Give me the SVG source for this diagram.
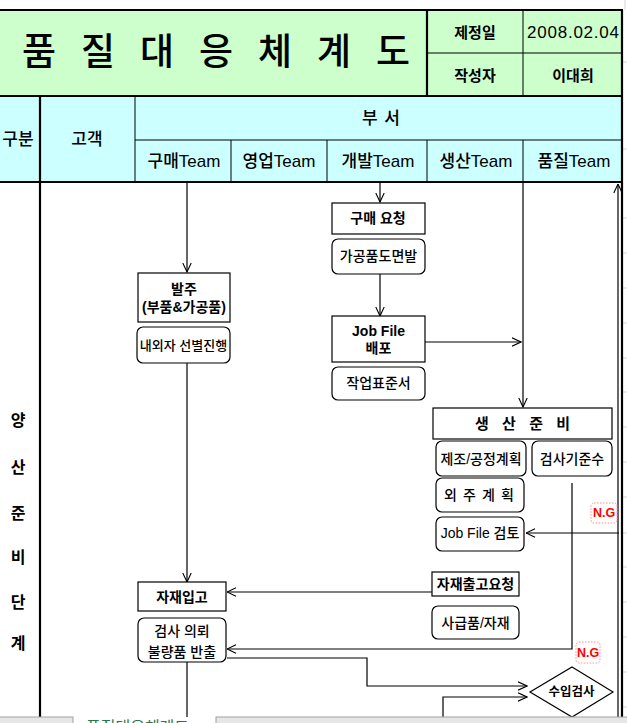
<svg xmlns="http://www.w3.org/2000/svg" width="627" height="723" viewBox="0 0 627 723">
<defs>
<style>
.t{font-family:"Liberation Sans","Noto Sans CJK KR",sans-serif;font-weight:500;fill:#000;text-anchor:middle;dominant-baseline:central}
.b{font-weight:bold}
.h{font-size:17px}
.s{font-size:14px}
.thin{stroke:#000;stroke-width:1;fill:none}
.thick{stroke:#000;stroke-width:2.2;fill:none}
.box{fill:#fff;stroke:#000;stroke-width:1.2}
.rbox{fill:#fff;stroke:#000;stroke-width:1.2}
.ng{fill:#fff;stroke:#ff8c8c;stroke-width:1;stroke-dasharray:1.5 1.5}
.ngt{font-family:"Liberation Sans",sans-serif;font-weight:bold;font-size:12.5px;fill:#ff0000;text-anchor:middle;dominant-baseline:central}
.grid{stroke:#d4d4d4;stroke-width:1}
.con{stroke:#000;stroke-width:1.2;fill:none;marker-end:url(#arr)}
.conn{stroke:#000;stroke-width:1.2;fill:none}
</style>
<marker id="arr" viewBox="0 0 10 10" refX="9.5" refY="5" markerWidth="10" markerHeight="10" markerUnits="userSpaceOnUse" orient="auto">
<path d="M0.5,0.8 L9.5,5 L0.5,9.2" fill="none" stroke="#000" stroke-width="1.1"/>
</marker>
</defs>
<rect width="627" height="723" fill="#fff"/>

<!-- Excel gridline ticks beyond table -->
<g id="gridticks">
<line class="grid" x1="625" y1="0" x2="625" y2="10"/>
<line class="grid" x1="623" y1="62" x2="627" y2="62"/>
<line class="grid" x1="623" y1="149" x2="627" y2="149"/>
<line class="grid" x1="623" y1="218" x2="627" y2="218"/>
<line class="grid" x1="623" y1="253" x2="627" y2="253"/>
<line class="grid" x1="623" y1="288" x2="627" y2="288"/>
<line class="grid" x1="623" y1="323" x2="627" y2="323"/>
<line class="grid" x1="623" y1="358" x2="627" y2="358"/>
<line class="grid" x1="623" y1="392" x2="627" y2="392"/>
<line class="grid" x1="623" y1="427" x2="627" y2="427"/>
<line class="grid" x1="623" y1="462" x2="627" y2="462"/>
<line class="grid" x1="623" y1="497" x2="627" y2="497"/>
<line class="grid" x1="623" y1="533" x2="627" y2="533"/>
<line class="grid" x1="623" y1="567" x2="627" y2="567"/>
<line class="grid" x1="623" y1="602" x2="627" y2="602"/>
<line class="grid" x1="623" y1="637" x2="627" y2="637"/>
<line class="grid" x1="623" y1="672" x2="627" y2="672"/>
<line class="grid" x1="623" y1="707" x2="627" y2="707"/>
</g>

<!-- Header -->
<g id="header">
<rect x="0" y="10" width="622" height="86" fill="#ccffcc"/>
<rect x="0" y="96" width="622" height="86" fill="#ccffff"/>
<line class="thin" x1="523" y1="10" x2="523" y2="96"/>
<line class="thin" x1="427" y1="53" x2="622" y2="53"/>
<line class="thin" x1="135" y1="96" x2="135" y2="182"/>
<line class="thin" x1="135" y1="140" x2="622" y2="140"/>
<line class="thin" x1="231" y1="140" x2="231" y2="182"/>
<line class="thin" x1="327" y1="140" x2="327" y2="182"/>
<line class="thin" x1="427" y1="140" x2="427" y2="182"/>
<line class="thin" x1="523" y1="140" x2="523" y2="182"/>
<line class="thick" x1="0" y1="10" x2="623" y2="10"/>
<line class="thick" x1="0" y1="96" x2="623" y2="96"/>
<line class="thick" x1="0" y1="182" x2="623" y2="182"/>
<line class="thick" x1="427" y1="10" x2="427" y2="96"/>
<line class="thick" x1="40" y1="96" x2="40" y2="717"/>
<line class="thick" x1="622" y1="10" x2="622" y2="717"/>
<text class="t" x="22" y="52" style="font-size:37px;text-anchor:start" textLength="388" lengthAdjust="spacing">품 질 대 응 체 계 도</text>
<text class="t b" x="475" y="32" style="font-size:15px">제정일</text>
<text class="t" x="573" y="32" style="font-size:17px" textLength="92" lengthAdjust="spacing">2008.02.04</text>
<text class="t b" x="475" y="75" style="font-size:15px">작성자</text>
<text class="t b" x="573" y="75" style="font-size:15px">이대희</text>
<text class="t h" x="18" y="139">구분</text>
<text class="t h" x="87" y="139">고객</text>
<text class="t h" x="381" y="118" textLength="38" lengthAdjust="spacing">부 서</text>
<text class="t h" x="184" y="161">구매Team</text>
<text class="t h" x="279" y="161">영업Team</text>
<text class="t h" x="378" y="161">개발Team</text>
<text class="t h" x="476" y="161">생산Team</text>
<text class="t h" x="574" y="161">품질Team</text>
</g>

<!-- Stage column -->
<g id="stage">
<text class="t b" x="18" y="420" style="font-size:16px">양</text>
<text class="t b" x="18" y="467" style="font-size:16px">산</text>
<text class="t b" x="18" y="513" style="font-size:16px">준</text>
<text class="t b" x="18" y="557" style="font-size:16px">비</text>
<text class="t b" x="18" y="602" style="font-size:16px">단</text>
<text class="t b" x="18" y="643" style="font-size:16px">계</text>
</g>

<!-- Connectors -->
<g id="connectors">
<path class="con" d="M187,183 V272"/>
<path class="con" d="M380,183 V202"/>
<path class="con" d="M380,274 V316"/>
<path class="con" d="M425,342 H521"/>
<path class="con" d="M523,183 V407"/>
<path class="con" d="M618,717 V184"/>
<path class="con" d="M619,533 H526"/>
<path class="con" d="M572,483 V649 H227"/>
<path class="con" d="M187,363 V582"/>
<path class="con" d="M432,592 H227"/>
<path class="con" d="M227,658 H367 V686 H527"/>
<path class="con" d="M443,717 V697 H527"/>
<path class="conn" d="M187,662 V717"/>
</g>

<!-- Nodes -->
<g id="n-order">
<rect class="box" x="138" y="273" width="92" height="49"/>
<text class="t b s" x="184" y="289">발주</text>
<text class="t b s" x="184" y="307">(부품&amp;가공품)</text>
</g>
<g id="n-select">
<rect class="rbox" x="137" y="327" width="93" height="36" rx="6"/>
<text class="t" x="183.5" y="345" style="font-size:13px">내외자 선별진행</text>
</g>
<g id="n-purreq">
<rect class="box" x="332" y="203" width="93" height="31"/>
<text class="t b s" x="378" y="218">구매 요청</text>
</g>
<g id="n-drawing">
<rect class="rbox" x="332" y="239" width="93" height="35" rx="6"/>
<text class="t s" x="378.5" y="256">가공품도면발</text>
</g>
<g id="n-jobfile">
<rect class="box" x="332" y="316" width="93" height="46"/>
<text class="t b s" x="378.5" y="331">Job File</text>
<text class="t b s" x="378.5" y="348">배포</text>
</g>
<g id="n-wstd">
<rect class="rbox" x="332" y="367" width="93" height="33" rx="6"/>
<text class="t s" x="378.5" y="383">작업표준서</text>
</g>
<g id="n-prodprep">
<rect class="box" x="433" y="408" width="179" height="31"/>
<text class="t b" x="475" y="423" style="font-size:15px;text-anchor:start" textLength="95" lengthAdjust="spacing">생 산 준 비</text>
</g>
<g id="n-plan">
<rect class="rbox" x="436" y="441" width="90" height="35" rx="6"/>
<text class="t s" x="481" y="459">제조/공정계획</text>
</g>
<g id="n-inspstd">
<rect class="rbox" x="532" y="441" width="80" height="35" rx="6"/>
<text class="t s" x="572" y="459">검사기준수</text>
</g>
<g id="n-outsrc">
<rect class="rbox" x="436" y="478" width="88" height="34" rx="6"/>
<text class="t s" x="444" y="495" style="text-anchor:start" textLength="70" lengthAdjust="spacing">외 주 계 획</text>
</g>
<g id="n-jobreview">
<rect class="rbox" x="436" y="517" width="88" height="34" rx="6"/>
<text class="t s" x="480" y="533">Job File 검토</text>
</g>
<g id="n-ng1">
<rect class="ng" x="591" y="503" width="26" height="20" rx="3"/>
<text class="ngt" x="604" y="513">N.G</text>
</g>
<g id="n-recv">
<rect class="box" x="138" y="582" width="88" height="29"/>
<text class="t b s" x="182" y="597">자재입고</text>
</g>
<g id="n-issue">
<rect class="box" x="432" y="572" width="87" height="24"/>
<text class="t b s" x="475.5" y="584">자재출고요청</text>
</g>
<g id="n-supply">
<rect class="rbox" x="432" y="606" width="87" height="33" rx="6"/>
<text class="t s" x="475.5" y="623">사급품/자재</text>
</g>
<g id="n-inspreq">
<rect class="rbox" x="138" y="618" width="88" height="44" rx="6"/>
<text class="t s" x="182" y="631">검사 의뢰</text>
<text class="t s" x="182" y="652">불량품 반출</text>
</g>
<g id="n-ng2">
<rect class="ng" x="576" y="642" width="24" height="21" rx="3"/>
<text class="ngt" x="588" y="652.5">N.G</text>
</g>
<g id="n-incoming">
<path d="M572,667 L613,692 L572,717 L530,692 Z" fill="#fff" stroke="#000" stroke-width="1.2"/>
<text class="t b" x="571.5" y="692" style="font-size:12.5px">수입검사</text>
</g>

<!-- Sheet tab bar -->
<g id="tabbar">
<rect x="-1" y="717" width="74" height="8" fill="#e6e6e6" stroke="#a0a0a0" stroke-width="1"/>
<rect x="216" y="717" width="412" height="8" fill="#e6e6e6" stroke="#a0a0a0" stroke-width="1"/>
<text x="86" y="733" style="font-family:'Noto Sans CJK KR',sans-serif;font-size:16px;fill:#1e7b45">품질대응체계도</text>
</g>
</svg>
